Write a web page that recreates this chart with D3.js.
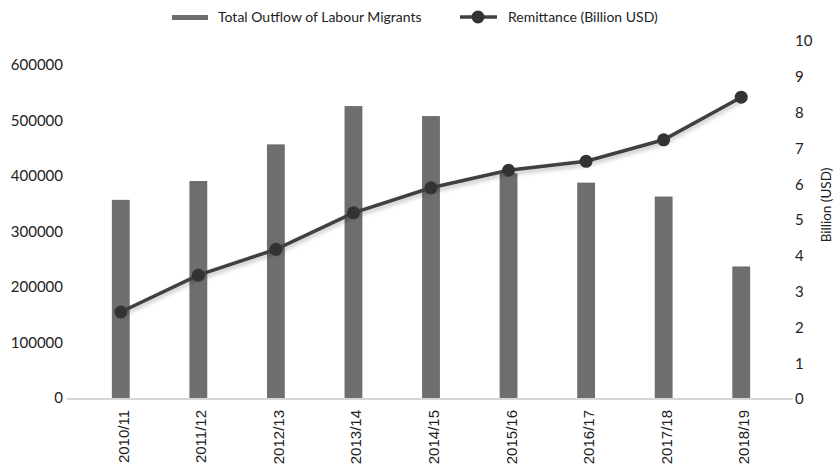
<!DOCTYPE html>
<html>
<head>
<meta charset="utf-8">
<script src="https://cdn.jsdelivr.net/npm/d3@7"></script>
<style>
  body { margin: 0; background: #fff; }
</style>
</head>
<body>
<svg width="835" height="469" font-family="Lato, 'Open Sans', sans-serif"></svg>
<script>
// data
var years = ["2010/11", "2011/12", "2012/13", "2013/14", "2014/15", "2015/16", "2016/17", "2017/18", "2018/19"];
var migrants = [357000, 391000, 457000, 526000, 508000, 405000, 388000, 363000, 237000];
var remittance = [2.43, 3.46, 4.18, 5.2, 5.9, 6.39, 6.64, 7.24, 8.43];
var leftTicks = [0, 100000, 200000, 300000, 400000, 500000, 600000];
var rightTicks = [0, 1, 2, 3, 4, 5, 6, 7, 8, 9, 10];

var svg = d3.select("svg");

var x = d3.scaleBand().domain(years).range([82, 780]).paddingInner(0.77).paddingOuter(0.385);
var yL = d3.scaleLinear().domain([0, 600000]).range([398, 65]);
var yR = d3.scaleLinear().domain([0, 10]).range([399, 41]);

// shadow for the line
var defs = svg.append("defs");
var f = defs.append("filter").attr("id", "shadow").attr("x", "-10%").attr("y", "-10%").attr("width", "120%").attr("height", "140%");
f.append("feDropShadow").attr("dx", 0).attr("dy", 3).attr("stdDeviation", 2)
  .attr("flood-color", "#000").attr("flood-opacity", 0.25);

// bars
svg.append("g").selectAll("rect").data(years).join("rect")
  .attr("x", function(d) { return x(d); })
  .attr("width", x.bandwidth())
  .attr("y", function(d, i) { return yL(migrants[i]); })
  .attr("height", function(d, i) { return yL(0) - yL(migrants[i]); })
  .attr("fill", "#6e6e6e");

// baseline
svg.append("line").attr("x1", 67).attr("x2", 793).attr("y1", 399).attr("y2", 399)
  .attr("stroke", "#c8c8c8").attr("stroke-width", 1.5);

// left axis
var axL = svg.append("g").attr("transform", "translate(63,0)")
  .call(d3.axisLeft(yL).tickValues(leftTicks).tickSize(0).tickPadding(0).tickFormat(d3.format("d")));
axL.select(".domain").remove();
axL.selectAll("text").style("font-size", "15px").style("fill", "#222").style("font-family", "Lato");

// right axis
var axR = svg.append("g").attr("transform", "translate(795,0)")
  .call(d3.axisRight(yR).tickValues(rightTicks).tickSize(0).tickPadding(0));
axR.select(".domain").remove();
axR.selectAll("text").style("font-size", "15px").style("fill", "#222").style("font-family", "Lato");

svg.append("text").attr("transform", "translate(831,205) rotate(-90)")
  .attr("text-anchor", "middle").style("font-size", "13.5px").style("fill", "#222")
  .text("Billion (USD)");

// x labels
svg.append("g").selectAll("text").data(years).join("text")
  .attr("transform", function(d) { return "translate(" + (x(d) + x.bandwidth() / 2 + 8) + ",410) rotate(-90)"; })
  .attr("text-anchor", "end")
  .style("font-family", "'Liberation Sans', Arial, sans-serif")
  .style("font-size", "15px")
  .style("fill", "#222")
  .text(function(d) { return d; });

// line
var line = d3.line()
  .x(function(d, i) { return x(years[i]) + x.bandwidth() / 2; })
  .y(function(d) { return yR(d); });

svg.append("path").datum(remittance)
  .attr("d", line)
  .attr("fill", "none")
  .attr("stroke", "#404040")
  .attr("stroke-width", 3.5)
  .attr("filter", "url(#shadow)");

svg.append("g").selectAll("circle").data(remittance).join("circle")
  .attr("cx", function(d, i) { return x(years[i]) + x.bandwidth() / 2; })
  .attr("cy", function(d) { return yR(d); })
  .attr("r", 6.5)
  .attr("fill", "#333");

// legend
var lg = svg.append("g");
lg.append("rect").attr("x", 172).attr("y", 15).attr("width", 36).attr("height", 5).attr("fill", "#6e6e6e");
lg.append("text").attr("x", 218).attr("y", 22).style("font-size", "14px").style("fill", "#222")
  .text("Total Outflow of Labour Migrants");
lg.append("line").attr("x1", 460).attr("x2", 497).attr("y1", 17).attr("y2", 17)
  .attr("stroke", "#404040").attr("stroke-width", 3.5);
lg.append("circle").attr("cx", 478).attr("cy", 17).attr("r", 6.5).attr("fill", "#333");
lg.append("text").attr("x", 508).attr("y", 22).style("font-size", "14px").style("fill", "#222")
  .text("Remittance (Billion USD)");
</script>
</body>
</html>
